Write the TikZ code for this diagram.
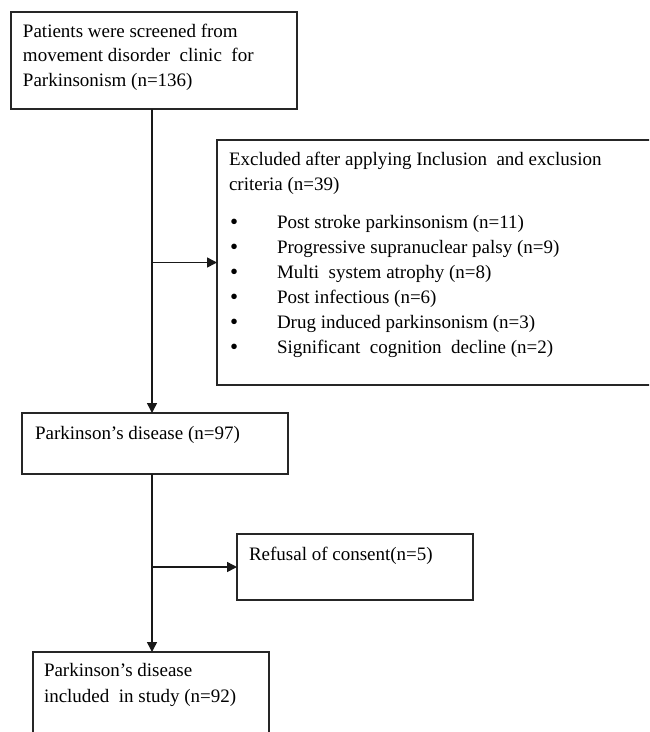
\documentclass[tikz,border=0pt]{standalone}
\usepackage{fontspec}
\setmainfont{Liberation Serif}
\usetikzlibrary{arrows.meta}
\begin{document}
\begin{tikzpicture}[x=1pt,y=-1pt,
  box/.style={draw=black!85, line width=1.5pt, rectangle, inner sep=0pt, outer sep=0pt},
  txt/.style={anchor=base west, inner sep=0pt, outer sep=0pt, font=\fontsize{19}{23}\selectfont, text=black},
  bul/.style={anchor=base west, inner sep=0pt, outer sep=0pt, font=\fontsize{23}{23}\selectfont, text=black},
  arr/.style={draw=black!90, line width=1.5pt, -{Triangle[length=10pt,width=10pt]}}]
\useasboundingbox (0,0) rectangle (649,732);
\clip (0,0) rectangle (649,732);
\fill[white] (0,0) rectangle (649,732);
% boxes
\node[box, minimum width=286pt, minimum height=97pt] (b1) at (154,60.5) {};
\node[box, minimum width=483pt, minimum height=245pt] (b2) at (458.5,262.5) {};
\node[box, minimum width=266pt, minimum height=61pt] (b3) at (155,443.5) {};
\node[box, minimum width=236pt, minimum height=66pt] (b5) at (355,567) {};
\node[box, minimum width=236pt, minimum height=108pt] (b4) at (151,706) {};
\coordinate (spine) at (152,0);
% texts
\node[txt] (t1a) at (23,37) {Patients were screened from};
\node[txt] (t1b) at (23,61) {movement disorder\ \ clinic\ \ for};
\node[txt] (t1c) at (23,86) {Parkinsonism\ (n=136)};
\node[txt] (t2a) at (229,165) {Excluded after applying\ Inclusion\ \ and exclusion};
\node[txt] (t2b) at (229,190) {criteria (n=39)};
\foreach \y/\t [count=\i] in {228/{Post stroke parkinsonism\ (n=11)},
  253/{Progressive supranuclear palsy (n=9)},
  278/{Multi\ \ system atrophy (n=8)},
  303/{Post infectious (n=6)},
  328/{Drug induced parkinsonism\ (n=3)},
  353/{Significant\ \ cognition\ \ decline (n=2)}}{
  \node[bul] (bul\i) at (230,\y+1) {•};
  \node[txt] (item\i) at (277,\y) {\t};
}
\node[txt] (t3) at (35,439) {Parkinson’s disease (n=97)};
\node[txt] (t5) at (249,560) {Refusal of consent(n=5)};
\node[txt] (t4a) at (44,676) {Parkinson’s disease};
\node[txt] (t4b) at (44,702) {included\ \ in study (n=92)};
% connectors
\draw[arr] (b1.south -| spine) -- (b3.north -| spine);
\draw[arr] (b2.west -| spine) -- (b2.west);
\draw[arr] (b3.south -| spine) -- (b4.north -| spine);
\draw[arr] (b5.west -| spine) -- (b5.west);
\end{tikzpicture}
\end{document}
